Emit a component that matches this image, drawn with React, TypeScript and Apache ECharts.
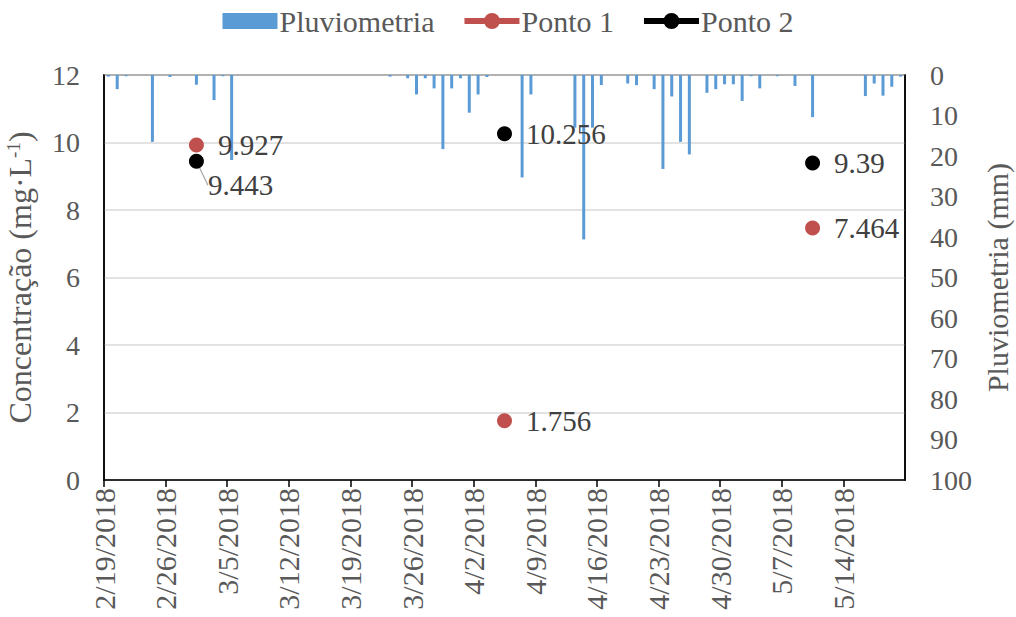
import React, { useEffect, useRef } from "react";
import * as echarts from "echarts";

const startDate = [2018, 1, 19]; // Feb 19, 2018 (month is 0-based)
const totalDays = 91;

const rainDates = [
  "2018-02-19", "2018-02-20", "2018-02-21", "2018-02-24", "2018-02-26", "2018-03-01",
  "2018-03-03", "2018-03-04", "2018-03-05", "2018-03-23", "2018-03-25", "2018-03-26",
  "2018-03-27", "2018-03-28", "2018-03-29", "2018-03-30", "2018-03-31", "2018-04-01",
  "2018-04-02", "2018-04-03", "2018-04-07", "2018-04-08", "2018-04-13", "2018-04-14",
  "2018-04-15", "2018-04-16", "2018-04-19", "2018-04-20", "2018-04-22", "2018-04-23",
  "2018-04-24", "2018-04-25", "2018-04-26", "2018-04-28", "2018-04-29", "2018-04-30",
  "2018-05-01", "2018-05-02", "2018-05-03", "2018-05-04", "2018-05-06", "2018-05-08",
  "2018-05-10", "2018-05-16", "2018-05-17", "2018-05-18", "2018-05-19", "2018-05-20",
];
const rainValues = [
  0.4, 3.5, 0.3, 16.5, 0.5, 2.4,
  6.2, 0.3, 21, 0.4, 0.8, 4.8,
  0.8, 3.3, 18.3, 3.3, 0.8, 9.3,
  4.8, 0.5, 25.3, 4.8, 13, 40.6,
  13, 2.5, 2.1, 2.5, 3.5, 23.2,
  5.3, 16.5, 19.6, 4.4, 3.5, 2.3,
  2.3, 6.4, 0.3, 3.3, 0.3, 2.7,
  10.4, 5.2, 2.1, 5.1, 2.9, 0.4,
];

const sampleDates = ["2018-03-01", "2018-04-05", "2018-05-10"];
const ponto1Values = [9.927, 1.756, 7.464];
const ponto2Values = [9.443, 10.256, 9.39];

const leftTicks = { min: 0, max: 12, interval: 2 };
const rightTicks = { min: 0, max: 100, interval: 10 };

const FONT = "Liberation Serif, Times New Roman, serif";
const TICK_COLOR = "#595959";
const LABEL_COLOR = "#404040";
const LEADER_COLOR = "#a6a6a6";

const DAY_MS = 86400000;
function dayOffset(s: string): number {
  const [y, m, d] = s.split("-").map(Number);
  const t = new Date(y, m - 1, d, 12).getTime();
  const t0 = new Date(startDate[0], startDate[1], startDate[2], 12).getTime();
  return Math.round((t - t0) / DAY_MS);
}
function dayLabel(n: number): string {
  const dt = new Date(startDate[0], startDate[1], startDate[2] + n);
  return `${dt.getMonth() + 1}/${dt.getDate()}/${dt.getFullYear()}`;
}

const lineIcon =
  "path://M0,5H55V11H0Z M19.5,8A8,8 0 1,1 35.5,8A8,8 0 1,1 19.5,8Z";

export default function App() {
  const ref = useRef<HTMLDivElement>(null);
  useEffect(() => {
    if (!ref.current) return;
    const chart = echarts.init(ref.current, undefined, { renderer: "svg" });
    const rainData = rainDates.map((d, i) => [dayOffset(d) + 0.5, rainValues[i]]);
    const p1 = sampleDates.map((d, i) => [dayOffset(d) + 0.5, ponto1Values[i]]);
    const p2 = sampleDates.map((d, i) => ({
      value: [dayOffset(d) + 0.5, ponto2Values[i]],
      labelLine: { show: i === 0, lineStyle: { color: LEADER_COLOR, width: 1.2 } },
    }));

    chart.setOption({
      animation: false,
      backgroundColor: "#fff",
      textStyle: { fontFamily: FONT },
      legend: {
        top: 1,
        left: "center",
        itemGap: 30,
        itemWidth: 55,
        itemHeight: 16,
        symbolKeepAspect: true,
        itemStyle: { borderWidth: 0, opacity: 1 },
        textStyle: { fontFamily: FONT, fontSize: 30, color: TICK_COLOR, padding: [0, 0, 0, -3] },
        data: [
          { name: "Pluviometria", icon: "rect" },
          { name: "Ponto 1", icon: lineIcon },
          { name: "Ponto 2", icon: lineIcon },
        ],
      },
      grid: {
        left: 104,
        right: 111,
        top: 75,
        bottom: 137,
        show: true,
        borderColor: "#000",
        borderWidth: 1.5,
        containLabel: false,
        outerBoundsMode: "none",
      },
      xAxis: {
        type: "value",
        min: 0,
        max: totalDays,
        interval: 7,
        axisLine: { show: true, lineStyle: { color: "#000", width: 1.5 } },
        axisTick: { show: true, length: 7, lineStyle: { color: "#000", width: 1.5 } },
        splitLine: { show: false },
        axisLabel: {
          rotate: 90,
          margin: 8,
          fontFamily: FONT,
          fontSize: 30,
          color: TICK_COLOR,
          showMaxLabel: false,
          formatter: (v: number) => (v >= totalDays ? "" : dayLabel(v)),
        },
      },
      yAxis: [
        {
          type: "value",
          ...leftTicks,
          name: "Concentração (mg·L{sup|-1})",
          nameLocation: "middle",
          nameGap: 68,
          nameRotate: 90,
          nameTextStyle: {
            fontFamily: FONT,
            fontSize: 32,
            color: TICK_COLOR,
            rich: {
              sup: {
                fontFamily: FONT,
                fontSize: 19,
                color: TICK_COLOR,
                verticalAlign: "top",
                padding: [0, 0, 13, 0],
              },
            },
          },
          axisLine: { show: true, lineStyle: { color: "#000", width: 1.5 } },
          axisTick: { show: false },
          splitLine: { show: true, lineStyle: { color: "#d9d9d9", width: 1.5 } },
          axisLabel: { fontFamily: FONT, fontSize: 28, color: TICK_COLOR, margin: 24 },
        },
        {
          type: "value",
          ...rightTicks,
          inverse: true,
          position: "right",
          name: "Pluviometria (mm)",
          nameLocation: "middle",
          nameGap: 77,
          nameRotate: 90,
          nameTextStyle: { fontFamily: FONT, fontSize: 30, color: TICK_COLOR },
          axisLine: { show: true, lineStyle: { color: "#000", width: 1.5 } },
          axisTick: { show: false },
          splitLine: { show: false },
          axisLabel: { fontFamily: FONT, fontSize: 28, color: TICK_COLOR, margin: 25 },
        },
      ],
      series: [
        {
          name: "Pluviometria",
          type: "bar",
          yAxisIndex: 1,
          barWidth: 3,
          itemStyle: { color: "#5b9bd5" },
          data: rainData,
          z: 2,
        },
        {
          name: "Ponto 1",
          type: "scatter",
          yAxisIndex: 0,
          symbol: "circle",
          symbolSize: 15,
          itemStyle: { color: "#c0504d", opacity: 1 },
          label: {
            show: true,
            position: "right",
            distance: 14,
            fontFamily: FONT,
            fontSize: 29,
            color: LABEL_COLOR,
            formatter: (p: any) => String(p.value[1]),
          },
          data: p1,
          z: 4,
        },
        {
          name: "Ponto 2",
          type: "scatter",
          yAxisIndex: 0,
          symbol: "circle",
          symbolSize: 15,
          itemStyle: { color: "#000", opacity: 1 },
          label: {
            show: true,
            position: "right",
            distance: 14,
            fontFamily: FONT,
            fontSize: 29,
            color: LABEL_COLOR,
            formatter: (p: any) => String(p.value[1]),
          },
          labelLine: { show: false, lineStyle: { color: LEADER_COLOR, width: 1.2 } },
          labelLayout: (params: any) =>
            params.dataIndex === 0 ? { dx: -10, dy: 24 } : {},
          data: p2,
          z: 5,
        },
      ],
    });
    return () => chart.dispose();
  }, []);

  return (
    <div
      ref={ref}
      style={{ position: "absolute", left: 0, top: 0, width: 1016, height: 617 }}
    />
  );
}
